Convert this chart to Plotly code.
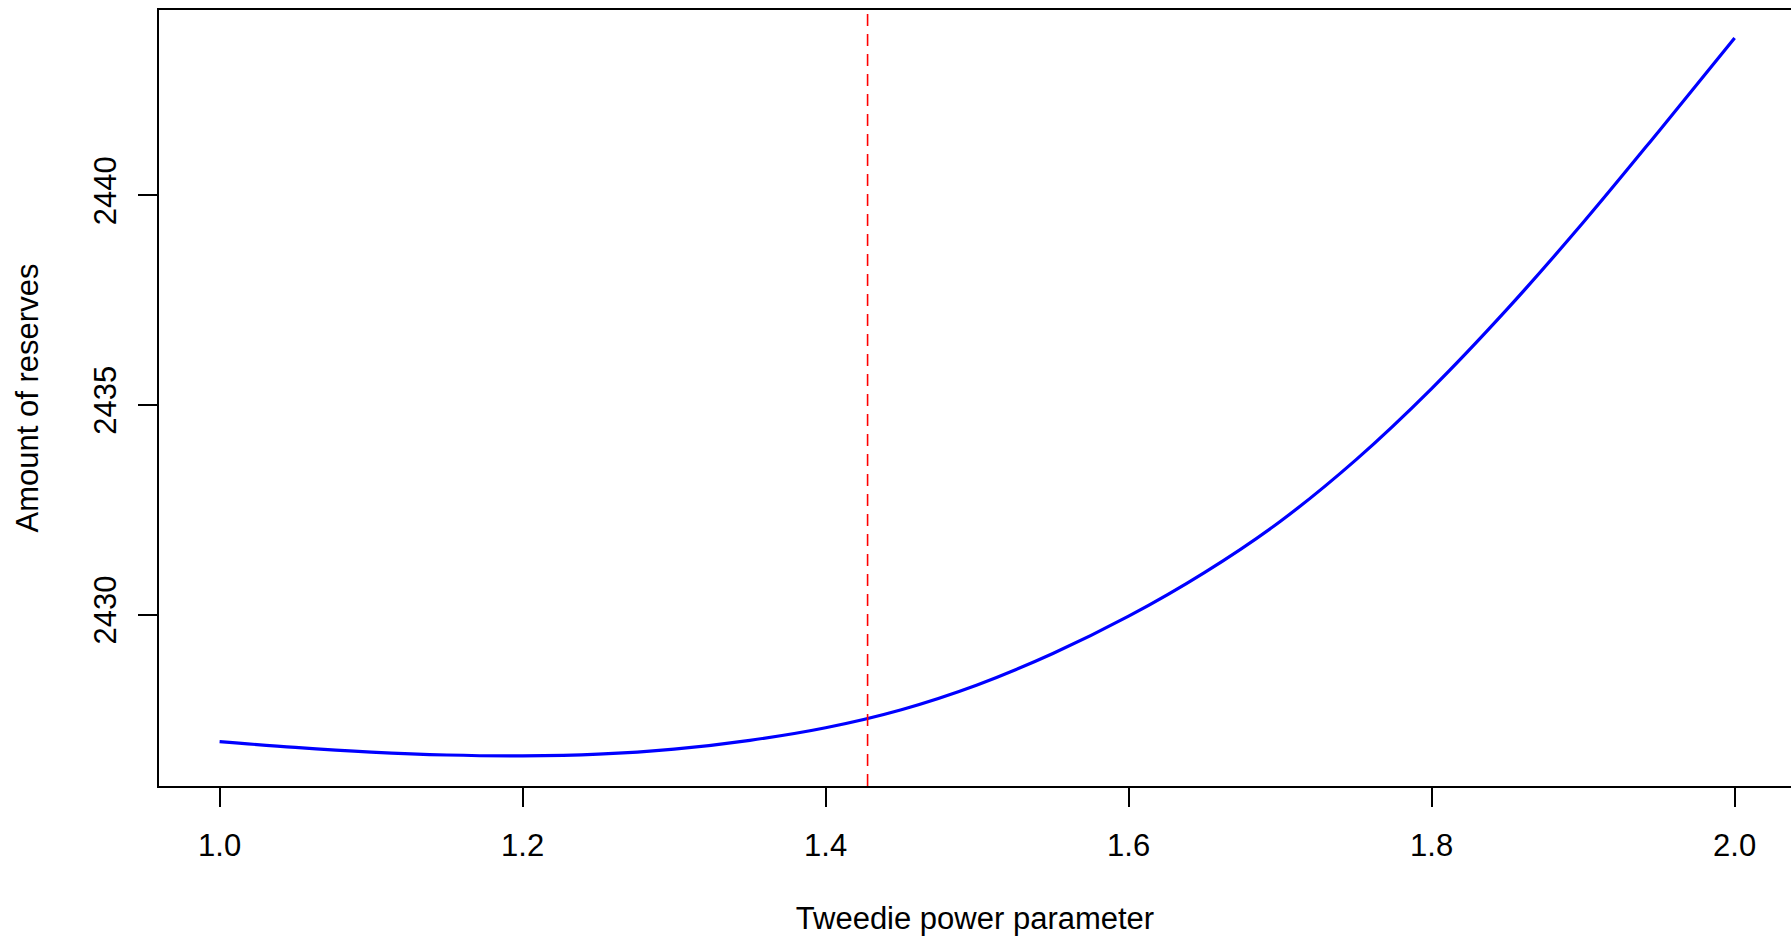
import plotly.graph_objects as go

# Data
power_param = [1.00, 1.05, 1.10, 1.15, 1.20, 1.25, 1.30, 1.35, 1.40, 1.45,
               1.50, 1.55, 1.60, 1.65, 1.70, 1.75, 1.80, 1.85, 1.90, 1.95, 2.00]
reserves = [2426.97, 2426.83, 2426.72, 2426.65, 2426.63, 2426.67, 2426.79, 2427.00,
            2427.30, 2427.73, 2428.32, 2429.07, 2429.96, 2431.00, 2432.22, 2433.69,
            2435.39, 2437.29, 2439.35, 2441.53, 2443.75]
optimal_p = 1.4277

x_ticks = [1.0, 1.2, 1.4, 1.6, 1.8, 2.0]
x_tick_labels = ["1.0", "1.2", "1.4", "1.6", "1.8", "2.0"]
y_ticks = [2430, 2435, 2440]
y_tick_labels = ["2430", "2435", "2440"]

FONT = "Liberation Sans, Arial, sans-serif"
FS = 31

fig = go.Figure()
fig.add_trace(go.Scatter(
    x=power_param, y=reserves, mode="lines",
    line=dict(color="#0000ff", width=3.2, shape="spline", smoothing=1.0),
    showlegend=False, hoverinfo="x+y",
))
fig.add_shape(type="line", xref="x", yref="paper", x0=optimal_p, x1=optimal_p, y0=0, y1=1,
              line=dict(color="#ff0000", width=1.6, dash="12px,8px"))

fig.update_layout(
    width=1791, height=939,
    margin=dict(l=159, r=0, t=10, b=153, autoexpand=False),
    paper_bgcolor="white", plot_bgcolor="white",
    font=dict(family=FONT, size=FS, color="black"),
    xaxis=dict(
        range=[0.96, 2.0372], tickvals=x_ticks, ticktext=x_tick_labels,
        ticks="outside", ticklen=19, tickwidth=1.5, tickcolor="black",
        showline=True, linecolor="black", linewidth=1.8, mirror=True,
        showgrid=False, zeroline=False, automargin=False,
        tickfont=dict(size=FS), ticklabelstandoff=12,
        title=dict(text="Tweedie power parameter", font=dict(size=FS), standoff=45),
    ),
    yaxis=dict(
        range=[2425.91, 2444.42], tickvals=y_ticks, ticktext=y_tick_labels,
        ticks="outside", ticklen=19, tickwidth=1.5, tickcolor="black",
        showline=True, linecolor="black", linewidth=1.8, mirror=False,
        showgrid=False, zeroline=False, automargin=False,
        tickangle=-90, tickfont=dict(size=FS), ticklabelstandoff=10,
        title=dict(text="Amount of reserves", font=dict(size=FS), standoff=40),
    ),
)
fig.write_html("out.html", config={"displayModeBar": False},
               post_script="document.body.style.margin='0';document.body.style.overflow='hidden';")
